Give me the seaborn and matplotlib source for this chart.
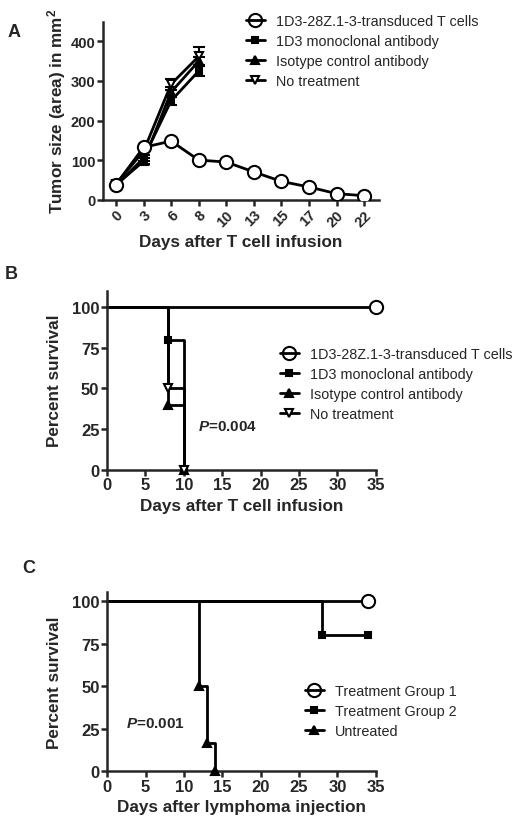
import matplotlib
matplotlib.use("Agg")
import matplotlib.pyplot as plt
from matplotlib.lines import Line2D
import seaborn as sns

sns.set_style("ticks")
plt.rcParams['font.family'] = ['Liberation Sans', 'DejaVu Sans']
plt.rcParams['mathtext.fontset'] = 'custom'
plt.rcParams['mathtext.rm'] = 'Liberation Sans:bold'
plt.rcParams['mathtext.bf'] = 'Liberation Sans:bold'
plt.rcParams['mathtext.it'] = 'Liberation Sans:bold:italic'

# ---- panel A: tumor size ----
days_a = [0, 3, 6, 8, 10, 13, 15, 17, 20, 22]
car_days = [0, 3, 6, 8, 10, 13, 15, 17, 20, 22]
car_size = [38, 132, 148, 100, 95, 70, 46, 32, 15, 10]
car_err = [3, 5, 5, 4, 4, 4, 3, 3, 2, 2]
mab_days = [0, 3, 6, 8]
mab_size = [35, 105, 250, 325]
mab_err = [3, 8, 10, 13]
iso_days = [0, 3, 6, 8]
iso_size = [37, 97, 272, 350]
iso_err = [3, 8, 12, 10]
none_days = [0, 3, 6, 8]
none_size = [40, 122, 292, 362]
none_err = [3, 10, 14, 23]
labels_a = ["1D3-28Z.1-3-transduced T cells", "1D3 monoclonal antibody",
            "Isotype control antibody", "No treatment"]

# ---- panel B: survival ----
b_car_t = [0, 35]
b_car_s = [100, 100]
b_mab_t = [0, 8, 10]
b_mab_s = [100, 80, 0]
b_iso_t = [0, 8, 10]
b_iso_s = [100, 40, 0]
b_none_t = [0, 8, 10]
b_none_s = [100, 50, 0]

# ---- panel C: survival ----
c_g1_t = [0, 34]
c_g1_s = [100, 100]
c_g2_t = [0, 28, 34]
c_g2_s = [100, 80, 80]
c_un_t = [0, 12, 13, 14]
c_un_s = [100, 50, 16.7, 0]
labels_c = ["Treatment Group 1", "Treatment Group 2", "Untreated"]

LW = 2.0
TICK_FS = 12
LAB_FS = 12.3
LEG_FS = 10.4

# marker specs: (marker, size in pt, facecolor)
M_CIRC = ('o', 9.5, 'white')
M_SQ = ('s', 5, 'black')
M_TRI = ('^', 5.5, 'black')
M_ITRI = ('v', 5.5, 'white')


def style_axis(ax, pad=4, fs=TICK_FS):
    sns.despine(ax=ax)
    for sp in ['left', 'bottom']:
        ax.spines[sp].set_linewidth(1.8)
    ax.tick_params(width=1.8, length=4, labelsize=fs, pad=1.5, direction='out')
    for t in ax.get_xticklabels() + ax.get_yticklabels():
        t.set_fontweight('bold')
    ax.yaxis.labelpad = pad


def handle(spec):
    m, ms, fc = spec
    if fc == 'white' and m == 'o':
        fc = 'none'
    return Line2D([0], [0], color='black', lw=LW, marker=m, markersize=ms,
                  markerfacecolor=fc, markeredgecolor='black', markeredgewidth=1.5)


fig = plt.figure(figsize=(5.2, 8.29), dpi=100)

# ===== A =====
axA = fig.add_axes([0.198, 0.758, 0.531, 0.2147])
groups_a = [(car_days, car_size, car_err, M_CIRC),
            (mab_days, mab_size, mab_err, M_SQ),
            (iso_days, iso_size, iso_err, M_TRI),
            (none_days, none_size, none_err, M_ITRI)]
for d, y, e, spec in groups_a[::-1]:
    pos = [days_a.index(v) for v in d]
    axA.errorbar(pos, y, yerr=e, fmt='none', ecolor='black', elinewidth=1.5,
                 capsize=4, capthick=1.5, zorder=2)
    m, ms, fc = spec
    sns.lineplot(x=pos, y=y, ax=axA, color='black', linewidth=LW, marker=m,
                 markersize=ms, markerfacecolor=fc, markeredgecolor='black',
                 markeredgewidth=1.5, zorder=3)
axA.set_xlim(-0.47, 9.54)
axA.set_ylim(0, 450)
axA.set_xticks(range(len(days_a)))
axA.set_xticklabels([str(d) for d in days_a], rotation=45, ha='right',
                    rotation_mode='anchor')
axA.set_yticks([0, 100, 200, 300, 400])
axA.set_xlabel("Days after T cell infusion", fontsize=LAB_FS, fontweight='bold')
axA.set_ylabel("Tumor size (area) in mm$^2$", fontsize=LAB_FS, fontweight='bold')
style_axis(axA, pad=2, fs=10.5)
axA.legend(handles=[handle(s) for s in [M_CIRC, M_SQ, M_TRI, M_ITRI]],
           labels=labels_a, loc='upper left', bbox_to_anchor=(246 / 520, 1 - 15 / 829),
           bbox_transform=fig.transFigure, frameon=False, fontsize=LEG_FS,
           handlelength=1.3, handletextpad=0.8, labelspacing=0.42,
           borderpad=0, borderaxespad=0)

# ===== B =====
axB = fig.add_axes([0.2058, 0.4322, 0.5167, 0.2159])
groups_b = [(b_car_t, b_car_s, M_CIRC),
            (b_mab_t, b_mab_s, M_SQ),
            (b_iso_t, b_iso_s, M_TRI),
            (b_none_t, b_none_s, M_ITRI)]
for t, s, spec in groups_b:
    sns.lineplot(x=t, y=s, ax=axB, color='black', linewidth=LW,
                 drawstyle='steps-post', clip_on=False, zorder=2)
for t, s, spec in groups_b:
    m, ms, fc = spec
    sns.lineplot(x=t[1:], y=s[1:], ax=axB, color='black', linestyle='', marker=m,
                 markersize=ms, markerfacecolor=fc, markeredgecolor='black',
                 markeredgewidth=1.5, clip_on=False, zorder=3)
axB.set_xlim(0, 35)
axB.set_ylim(0, 110)
axB.set_xticks(range(0, 36, 5))
axB.set_yticks([0, 25, 50, 75, 100])
axB.set_xlabel("Days after T cell infusion", fontsize=LAB_FS, fontweight='bold')
axB.set_ylabel("Percent survival", fontsize=LAB_FS, fontweight='bold')
axB.text(11.9, 27, "$P$=0.004", fontsize=LEG_FS + 0.6, fontweight='bold',
         ha='left', va='center')
style_axis(axB, pad=7)
axB.legend(handles=[handle(s) for s in [M_CIRC, M_SQ, M_TRI, M_ITRI]],
           labels=labels_a, loc='upper left', bbox_to_anchor=(280 / 520, 1 - 348 / 829),
           bbox_transform=fig.transFigure, frameon=False, fontsize=LEG_FS,
           handlelength=1.3, handletextpad=0.8, labelspacing=0.42,
           borderpad=0, borderaxespad=0)

# ===== C =====
axC = fig.add_axes([0.2063, 0.0684, 0.5162, 0.2163])
groups_c = [(c_g1_t, c_g1_s, M_CIRC),
            (c_g2_t, c_g2_s, M_SQ),
            (c_un_t, c_un_s, M_TRI)]
for t, s, spec in groups_c:
    sns.lineplot(x=t, y=s, ax=axC, color='black', linewidth=LW,
                 drawstyle='steps-post', clip_on=False, zorder=2)
for t, s, spec in groups_c:
    m, ms, fc = spec
    sns.lineplot(x=t[1:], y=s[1:], ax=axC, color='black', linestyle='', marker=m,
                 markersize=ms, markerfacecolor=fc, markeredgecolor='black',
                 markeredgewidth=1.5, clip_on=False, zorder=3)
axC.set_xlim(0, 35)
axC.set_ylim(0, 105.5)
axC.set_xticks(range(0, 36, 5))
axC.set_yticks([0, 25, 50, 75, 100])
axC.set_xlabel("Days after lymphoma injection", fontsize=LAB_FS, fontweight='bold')
axC.set_ylabel("Percent survival", fontsize=LAB_FS, fontweight='bold')
axC.text(2.4, 28.5, "$P$=0.001", fontsize=LEG_FS + 0.6, fontweight='bold',
         ha='left', va='center')
style_axis(axC, pad=7)
axC.legend(handles=[handle(s) for s in [M_CIRC, M_SQ, M_TRI]],
           labels=labels_c, loc='upper left', bbox_to_anchor=(305 / 520, 1 - 685 / 829),
           bbox_transform=fig.transFigure, frameon=False, fontsize=LEG_FS,
           handlelength=1.3, handletextpad=0.8, labelspacing=0.42,
           borderpad=0, borderaxespad=0)

# panel letters
fig.text(8 / 520, 1 - 37 / 829, "A", fontsize=13, fontweight='bold')
fig.text(5 / 520, 1 - 279 / 829, "B", fontsize=13, fontweight='bold')
fig.text(22 / 520, 1 - 573 / 829, "C", fontsize=13, fontweight='bold')

fig.savefig("out.png", dpi=100)
